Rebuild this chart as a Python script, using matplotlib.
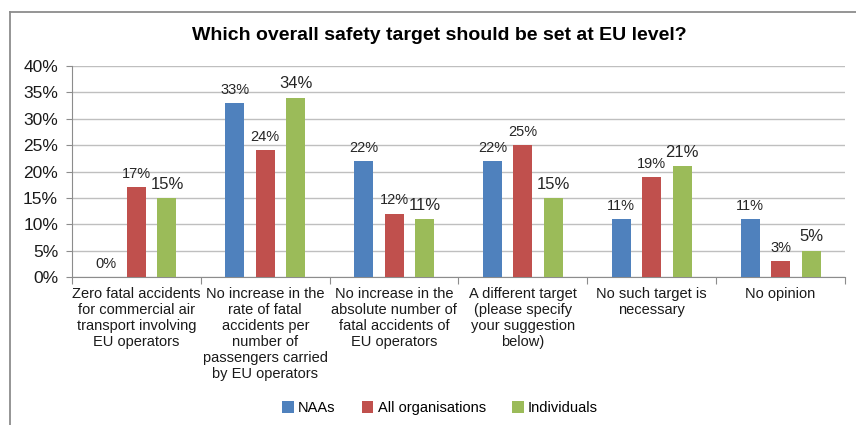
import matplotlib
matplotlib.use("Agg")
import matplotlib.pyplot as plt
import numpy as np
from matplotlib.lines import Line2D

plt.rcParams['font.family'] = ['Liberation Sans', 'DejaVu Sans']

title = "Which overall safety target should be set at EU level?"
categories = [
    "Zero fatal accidents\nfor commercial air\ntransport involving\nEU operators",
    "No increase in the\nrate of fatal\naccidents per\nnumber of\npassengers carried\nby EU operators",
    "No increase in the\nabsolute number of\nfatal accidents of\nEU operators",
    "A different target\n(please specify\nyour suggestion\nbelow)",
    "No such target is\nnecessary",
    "No opinion",
]
series_names = ["NAAs", "All organisations", "Individuals"]
naas = [0, 33, 22, 22, 11, 11]
all_orgs = [17, 24, 12, 25, 19, 3]
individuals = [15, 34, 11, 15, 21, 5]
colors = ["#4F81BD", "#C0504D", "#9BBB59"]
yticks = [0, 5, 10, 15, 20, 25, 30, 35, 40]

W, H = 856, 425
fig = plt.figure(figsize=(W / 100, H / 100), dpi=100)

# outer chart frame (left and top edges visible)
fig.add_artist(Line2D([10 / W, 10 / W], [0, 1 - 12 / H], transform=fig.transFigure,
                      color="#8C8C8C", lw=1.3))
fig.add_artist(Line2D([10 / W, 1], [1 - 12 / H, 1 - 12 / H], transform=fig.transFigure,
                      color="#8C8C8C", lw=1.3))

left, right = 72 / W, 845 / W
top, bottom = 1 - 66 / H, 1 - 277 / H
ax = fig.add_axes([left, bottom, right - left, top - bottom])

x = np.arange(len(categories))
offset = 0.237
width = 0.148
data = [naas, all_orgs, individuals]
label_sizes = [10.5, 10.5, 12]
for i, (vals, col, name) in enumerate(zip(data, colors, series_names)):
    pos = x + (i - 1) * offset
    ax.bar(pos, vals, width, color=col, label=name, zorder=3)
    for xp, v in zip(pos, vals):
        ax.annotate(f"{v}%", (xp, v), xytext=(0, 4.5), textcoords="offset points",
                    ha="center", va="bottom", fontsize=label_sizes[i], color="#262626")

ax.set_xlim(-0.5, len(categories) - 0.5)
ax.set_ylim(0, 40)
ax.set_yticks(yticks)
ax.set_yticklabels([f"{t}%" for t in yticks], fontsize=12.5, color="#1a1a1a")
ax.yaxis.grid(True, color="#BFBFBF", lw=1.0, zorder=0)
ax.tick_params(axis="y", direction="out", length=4, color="#8C8C8C", pad=6)

# category boundaries as major ticks, labels at centres
ax.set_xticks(np.arange(-0.5, len(categories), 1.0))
ax.set_xticklabels([])
ax.set_xticks(x, minor=True)
ax.set_xticklabels(categories, minor=True, fontsize=10.5, color="#1a1a1a",
                   linespacing=1.18, va="top")
ax.tick_params(axis="x", which="major", direction="out", length=5, color="#8C8C8C")
ax.tick_params(axis="x", which="minor", length=0, pad=7)

for s in ["top", "right"]:
    ax.spines[s].set_visible(False)
ax.spines["left"].set_color("#8C8C8C")
ax.spines["bottom"].set_color("#8C8C8C")

fig.text(439 / W, 1 - 35 / H, title, ha="center", va="center",
         fontsize=14, fontweight="bold", color="#000000")

fig.legend(loc="center", bbox_to_anchor=(440 / W, 1 - 408 / H), ncol=3, frameon=False,
           fontsize=10.5, handlelength=0.8, handleheight=0.8, handletextpad=0.3,
           columnspacing=1.8)

fig.savefig("out.png", dpi=100)
